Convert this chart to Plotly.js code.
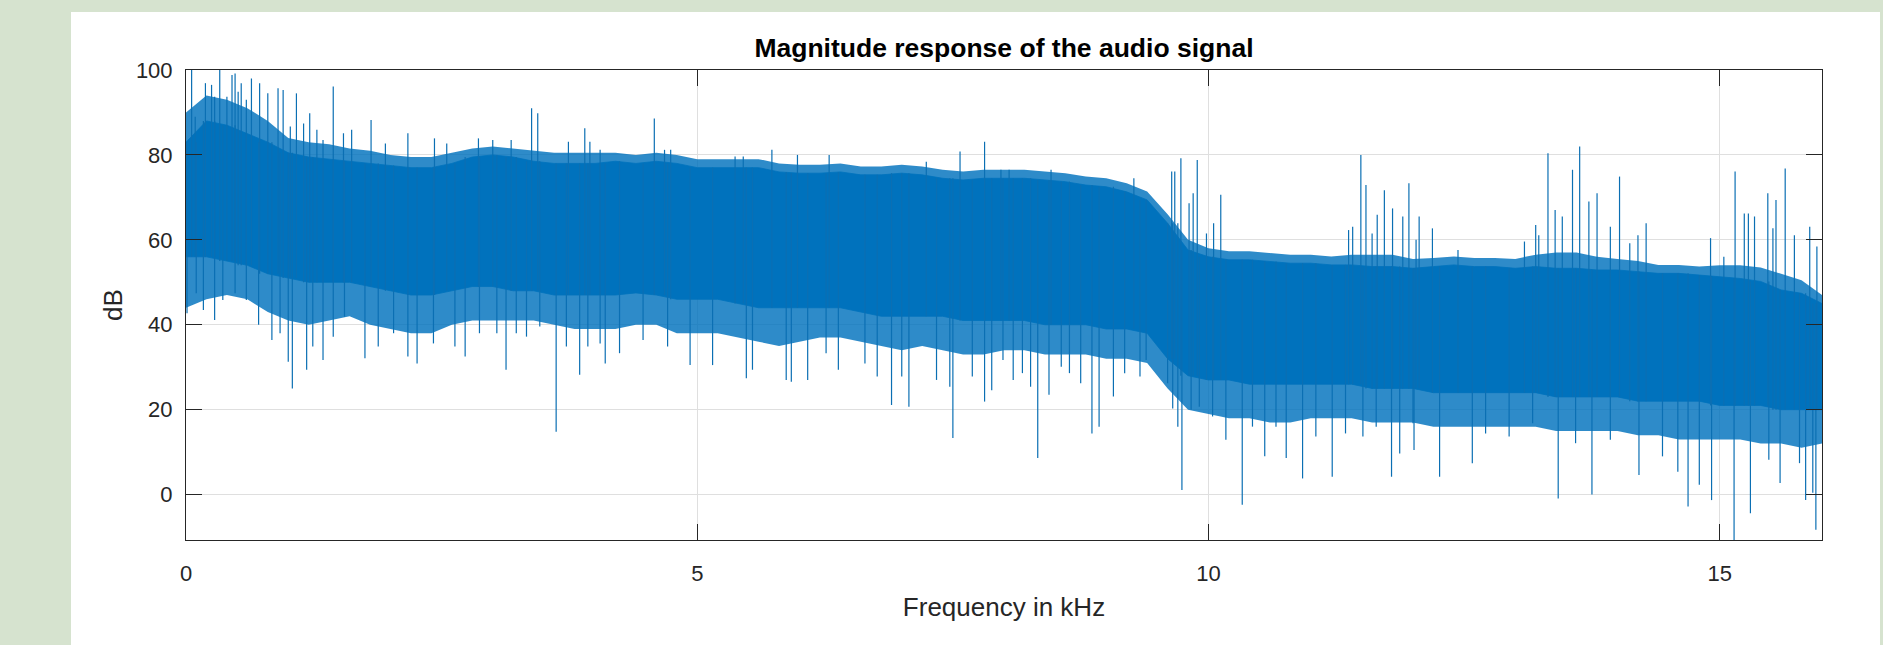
<!DOCTYPE html>
<html><head><meta charset="utf-8">
<script src="https://cdn.plot.ly/plotly-3.0.1.min.js"></script>
<style>
html,body{margin:0;padding:0;background:#d6e3cf;width:1883px;height:645px;overflow:hidden;}
#panel{position:absolute;left:71px;top:12px;width:1809px;height:633px;background:#fff;}
#chart{width:1809px;height:633px;}
</style></head><body>
<div id="panel"><div id="chart"></div></div>
<script>
// Frequency grid (kHz) at which the band envelopes were read
const freqGrid = [0,0.2,0.4,0.6,0.8,1,1.2,1.4,1.6,1.8,2,2.2,2.4,2.6,2.8,3,3.2,3.4,3.6,3.8,4,4.2,4.4,4.6,4.8,5,5.2,5.4,5.6,5.8,6,6.2,6.4,6.6,6.8,7,7.2,7.4,7.6,7.8,8,8.2,8.4,8.6,8.8,9,9.2,9.4,9.6,9.8,10,10.2,10.4,10.6,10.8,11,11.2,11.4,11.6,11.8,12,12.2,12.4,12.6,12.8,13,13.2,13.4,13.6,13.8,14,14.2,14.4,14.6,14.8,15,15.2,15.4,15.6,15.8,16];
// Dense core of the spectrum (dB)
const coreTop = [83,88,87,85,83,80.5,79.5,79,78.5,78,77.5,77,77,78,79.5,80,79.5,78.5,78,78,78,78.5,78,78.5,78,77,77,77,77,76,75.7,75.7,76,75.3,75.3,75.7,75.3,74.5,74.1,74.5,74.5,74.5,74.1,73.7,72.9,72.5,71.3,69.4,63.9,57.6,56,55.3,55.3,54.9,54.5,54.5,54.1,54.1,53.7,53.7,53.3,53.7,54.1,53.7,53.7,53.3,53.7,53.3,53.3,52.9,52.9,52.5,52.1,52.1,51.7,51.3,50.9,50.2,48.2,47.4,45];
const coreBottom = [56,56,55,54,52,51,50,50,50,49,48,47,47,48,49,49,48,48,47,47,47,47,47.5,47,46,46,46,45,44,44,44,44,44,43,42,42,42,42,41,41,41,41,40,40,40,39,39,38,32,28,27,27,26,26,26,26,26,26,25,25,25,24,24,24,24,24,24,23,23,23,23,22,22,22,22,21,21,21,20,20,20];
// Extent of the fringe of thin lines around the core (dB)
const fringeTop = [90,94,93,91,88,84,83,82.5,81.5,81,80,79.5,79.5,80.5,81.5,82,81.5,81,80.5,80.5,80.5,80.5,80,80.5,80,79,79,79,79,78,77.7,77.7,78,77.3,77.3,77.7,77.3,76.5,76.1,76.5,76.5,76.5,76.1,75.7,74.9,74.5,73.3,71.4,66,60,58,57.3,57.3,56.9,56.5,56.5,56.1,56.5,56.5,56.5,55.5,55.7,56.1,55.7,55.7,55.5,56.5,57,57,56,55.5,55,54.1,54.1,53.7,54,54,53.5,52,50.5,47];
const fringeBottom = [44,46,47,46,43,41,40,41,42,40,39,38,38,40,41,41,41,41,40,39,39,39,40,40,38,38,38,37,36,35,36,37,37,36,35,34,35,34,33,33,34,34,33,33,33,32,32,31,25,20,19,18,18,17,17,18,18,18,17,17,17,16,16,16,16,16,16,15,15,15,15,14,14,13,13,13,13,12,12,11,12];
// Isolated peaks above the band: frequency (kHz) and level (dB)
const spikeUpFreq = [0.055,0.09,0.19,0.25,0.28,0.33,0.40,0.45,0.48,0.51,0.54,0.59,0.64,0.72,0.80,0.90,0.95,1.02,1.08,1.15,1.21,1.28,1.34,1.44,1.54,1.62,1.81,1.95,2.17,2.43,2.55,2.86,3.00,3.18,3.38,3.44,3.74,3.90,3.95,4.05,4.58,4.68,4.74,5.37,5.45,5.73,5.98,6.29,7.24,7.57,7.81,7.97,8.05,8.46,9.27,9.64,9.67,9.73,9.81,9.85,9.89,9.98,10.05,10.12,11.37,11.41,11.49,11.54,11.60,11.65,11.72,11.80,11.90,11.96,12.03,12.06,12.19,12.44,13.09,13.20,13.23,13.32,13.39,13.46,13.56,13.63,13.72,13.80,13.93,14.02,14.12,14.20,14.28,14.91,15.04,15.15,15.24,15.28,15.34,15.47,15.52,15.55,15.64,15.73,15.88,15.95];
const spikeUpDb = [100,89,96.9,96.5,93.7,100,93.7,98.8,99.2,94.9,96.9,93,98,96.9,94.5,95.7,95.3,86.7,94.5,87.4,89.8,85.9,83.5,96.1,85.1,85.9,88.2,82.7,85.1,83.9,82.7,83.9,83.5,83.5,91,89.8,83.1,86.3,83.1,81.2,88.6,81.2,81.2,79.6,79.6,81.2,80,80,78.4,80.8,83.1,76.5,76.5,76.5,74.5,76.1,76.1,79.2,68.6,71,78.8,61.5,63.9,70.6,62.3,63.1,80,72.9,61.5,65.9,71.7,67.4,65.5,73.3,60,65.5,62.7,57.6,59.6,63.5,61.1,80.4,67,65.5,76.5,82,69,71,63.1,74.9,59.2,61.1,63.9,60.4,56,76.1,66.2,66.2,65.5,71,62.7,69.4,76.8,61.1,63.1,58.4];
// Isolated dips below the band: frequency (kHz) and level (dB)
const spikeDownFreq = [0.01,0.10,0.17,0.28,0.36,0.48,0.59,0.71,0.84,0.92,1.00,1.04,1.18,1.24,1.34,1.44,1.55,1.75,1.88,2.03,2.17,2.26,2.42,2.63,2.73,2.87,3.04,3.13,3.23,3.33,3.46,3.62,3.72,3.85,3.93,4.05,4.10,4.24,4.47,4.71,4.93,5.15,5.48,5.54,5.87,5.92,6.08,6.26,6.38,6.64,6.76,6.90,7.00,7.07,7.34,7.47,7.50,7.69,7.81,7.88,7.99,8.09,8.18,8.26,8.33,8.44,8.56,8.64,8.75,8.86,8.93,9.07,9.18,9.33,9.39,9.60,9.65,9.70,9.74,9.83,9.91,10.04,10.17,10.33,10.43,10.55,10.66,10.76,10.92,11.05,11.21,11.34,11.51,11.64,11.79,11.87,12.00,12.01,12.26,12.58,12.71,12.94,13.17,13.42,13.59,13.75,13.93,14.21,14.44,14.59,14.69,14.80,14.92,15.14,15.30,15.48,15.59,15.78,15.84,15.91,15.94];
const spikeDownDb = [42.7,47.4,43.5,41.1,45.8,47.4,45.8,40,36.4,38,31.3,25,29.4,34.9,31.7,37.2,41.9,32.1,34.9,38,32.5,30.9,35.6,34.9,32.5,38,38,29.4,38,37.2,39.6,14.8,34.9,28.2,34.9,35.6,30.9,33.3,36.4,34.9,30.5,30.5,27.4,29.4,27,26.6,27,33.3,29.4,30.9,27.8,21.1,27.8,20.7,27,25.4,13.3,27.8,21.9,24.6,31.7,27,28.6,25.4,8.6,23.5,30.1,28.6,26.2,14.4,16,23.1,28.6,27.8,31.7,26.2,20.3,16,1.1,20,20.7,18.4,12.9,-2.4,16,9,16,8.6,3.8,13.7,4.2,14.4,13.7,16,4.2,9.7,16.8,10.5,4.2,7.4,14.4,13.7,16.8,-0.9,12.1,0,12.9,4.6,9,5.4,-2.8,2.3,-1.3,-10.7,-4.4,8.2,2.7,7.4,-1.3,0.4,-8.3];
const xTickVals = [0,5,10,15];
const xTickText = ['0','5','10','15'];
const yTickVals = [0,20,40,60,80,100];
const yTickText = ['0','20','40','60','80','100'];

const BLUE = '#0072BD';
function nearestIdx(f){
  let best = 0;
  for (let i = 1; i < freqGrid.length; i++) {
    if (Math.abs(freqGrid[i]-f) < Math.abs(freqGrid[best]-f)) best = i;
  }
  return best;
}
function polygon(top, bot){
  return {x: freqGrid.concat(freqGrid.slice().reverse()), y: top.concat(bot.slice().reverse())};
}
const fringe = polygon(fringeTop, fringeBottom);
const core = polygon(coreTop, coreBottom);

const sx = [], sy = [];
spikeUpFreq.forEach((f,i)=>{ sx.push(f,f,null); sy.push(spikeUpDb[i], coreBottom[nearestIdx(f)], null); });
spikeDownFreq.forEach((f,i)=>{ sx.push(f,f,null); sy.push(spikeDownDb[i], coreTop[nearestIdx(f)], null); });

const FONT = 'Liberation Sans, Arial, Helvetica, sans-serif';
const traces = [
  {type:'scatter', mode:'lines', x:fringe.x, y:fringe.y, fill:'toself', fillcolor:'rgba(0,114,189,0.82)', line:{width:0, color:'rgba(0,114,189,0)'}, hoverinfo:'skip'},
  {type:'scatter', mode:'lines', x:core.x, y:core.y, fill:'toself', fillcolor:BLUE, line:{width:0.8, color:BLUE}, hoverinfo:'skip'},
  {type:'scatter', mode:'lines', x:sx, y:sy, line:{width:1.2, color:'#0b6fb3'}, connectgaps:false, hoverinfo:'skip'}
];

const axisCommon = {
  showline:true, linecolor:'#262626', linewidth:1, mirror:'ticks',
  ticks:'inside', ticklen:16, tickwidth:1, tickcolor:'#262626',
  showgrid:true, gridcolor:'#dfdfdf', gridwidth:1, zeroline:false,
  tickfont:{family:FONT, size:22, color:'#262626'}
};
const layout = {
  width:1809, height:633,
  paper_bgcolor:'#ffffff', plot_bgcolor:'#ffffff',
  margin:{l:115, r:58, t:58, b:105},
  showlegend:false,
  title:{text:'Magnitude response of the audio signal', font:{family:FONT, size:26.5, color:'#000', weight:700}, x:0.5, xref:'paper', y:1-36/633, yref:'container', yanchor:'middle'},
  xaxis:Object.assign({}, axisCommon, {range:[0,16], tickmode:'array', tickvals:xTickVals, ticktext:xTickText, ticklabelstandoff:14,
    title:{text:'Frequency in kHz', font:{family:FONT, size:26, color:'#262626'}, standoff:12}}),
  yaxis:Object.assign({}, axisCommon, {range:[-10.7,100], tickmode:'array', tickvals:yTickVals, ticktext:yTickText, ticklabelstandoff:8,
    title:{text:'dB', font:{family:FONT, size:26, color:'#262626'}, standoff:5}})
};
Plotly.newPlot('chart', traces, layout, {staticPlot:true, displayModeBar:false});
</script>
</body></html>
